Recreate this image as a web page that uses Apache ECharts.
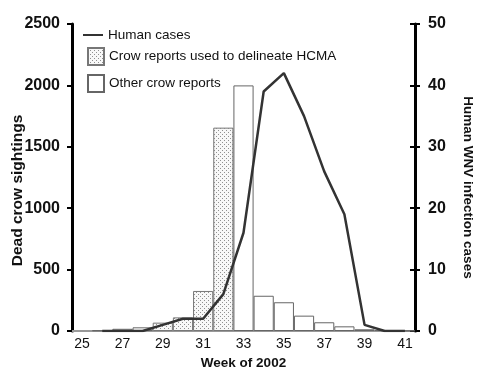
<!DOCTYPE html>
<html><head><meta charset="utf-8">
<script src="https://cdn.jsdelivr.net/npm/echarts@6/dist/echarts.min.js"></script>
<style>html,body{margin:0;padding:0;background:#fff}#c{width:480px;height:375px}</style>
</head><body><div id="c"></div>
<script>
var weeks = ['25','26','27','28','29','30','31','32','33','34','35','36','37','38','39','40','41'];
var hcmaCrows = [null,null,null,null,68,111,326,1656,null,null,null,null,null,null,null,null,null];
var otherCrows = [null,5,18,30,null,null,null,null,2000,287,234,125,71,38,14,8,3];
var humanCases = [null,0,0,0,1,2,2,6,16,39,42,35,26,19,1,0,0];
var leftTicks = [0,500,1000,1500,2000,2500];
var rightTicks = [0,10,20,30,40,50];

var cv = document.createElement('canvas');
cv.width = 4; cv.height = 4;
var cx = cv.getContext('2d');
cx.fillStyle = '#f8f8f8'; cx.fillRect(0,0,4,4);
cx.fillStyle = '#909090'; cx.fillRect(0,0,1,1); cx.fillRect(2,2,1,1);

var numFont = '"Liberation Sans Narrow","Arial Narrow","Liberation Sans",Arial,sans-serif';
var font = '"Liberation Sans",Arial,sans-serif';
var legendText = {fontFamily:font, fontSize:13.5, color:'#111'};

var chart = echarts.init(document.getElementById('c'), null, {renderer:'canvas'});
chart.setOption({
  animation: false,
  backgroundColor: '#fff',
  grid: {left:72, right:65, top:24, bottom:44, containLabel:false, outerBoundsMode:'none'},
  legend: [{
    orient:'vertical', left:78, top:22, itemWidth:20, itemHeight:16, itemGap:6,
    textStyle:legendText,
    data:[{name:'Human cases', icon:'path://M0,0M20,16M0,7L20,7L20,9L0,9Z'}]
  },{
    orient:'vertical', left:82, top:42, itemWidth:16, itemHeight:17, itemGap:8,
    textStyle:legendText,
    data:[{name:'Crow reports used to delineate HCMA', icon:'rect'},{name:'Other crow reports', icon:'rect'}]
  }],
  xAxis: {
    type:'category', data:weeks, boundaryGap:true,
    name:'Week of 2002', nameLocation:'middle', nameGap:24,
    nameTextStyle:{fontFamily:font, fontSize:13.5, fontWeight:'bold', color:'#111'},
    axisLine:{lineStyle:{color:'#999', width:2}},
    axisTick:{interval:0, length:6, lineStyle:{color:'#888', width:1}},
    axisLabel:{interval:1, margin:6, fontFamily:font, fontSize:14, color:'#111'}
  },
  yAxis: [{
    type:'value', min:0, max:2500, interval:500, position:'left',
    name:'Dead crow sightings', nameLocation:'middle', nameGap:46, nameRotate:90, nameMoveOverlap:false,
    nameTextStyle:{fontFamily:font, fontSize:15.5, fontWeight:'bold', color:'#111', padding:[0,26,0,0]},
    axisLine:{show:true, lineStyle:{color:'#000', width:3}},
    axisTick:{show:true, length:5, lineStyle:{color:'#000', width:2}},
    axisLabel:{margin:12, fontFamily:numFont, fontSize:16, fontWeight:'bold', color:'#111',
      formatter:function(v){return leftTicks.indexOf(v)>=0?String(v):'';}},
    splitLine:{show:false}
  },{
    type:'value', min:0, max:50, interval:10, position:'right',
    name:'Human WNV infection cases', nameLocation:'middle', nameGap:46, nameRotate:-90,
    nameTextStyle:{fontFamily:font, fontSize:13.5, fontWeight:'bold', color:'#111', padding:[0,0,0,20]},
    axisLine:{show:true, lineStyle:{color:'#000', width:3}},
    axisTick:{show:true, length:5, lineStyle:{color:'#000', width:2}},
    axisLabel:{margin:13, fontFamily:numFont, fontSize:16, fontWeight:'bold', color:'#111',
      formatter:function(v){return rightTicks.indexOf(v)>=0?String(v):'';}},
    splitLine:{show:false}
  },{
    type:'value', min:0, max:50, interval:10, position:'right',
    axisLine:{show:false},
    axisTick:{show:true, inside:true, length:5, lineStyle:{color:'#000', width:2}},
    axisLabel:{show:false}, splitLine:{show:false}
  }],
  series: [{
    name:'Crow reports used to delineate HCMA', type:'bar', data:hcmaCrows,
    barCategoryGap:'0%', barGap:'-100%',
    itemStyle:{color:{image:cv, repeat:'repeat'}, borderColor:'#777', borderWidth:1}
  },{
    name:'Other crow reports', type:'bar', data:otherCrows,
    barCategoryGap:'0%', barGap:'-100%',
    itemStyle:{color:'#fff', borderColor:'#666', borderWidth:1}
  },{
    name:'Human cases', type:'line', yAxisIndex:1, data:humanCases,
    symbol:'none', showSymbol:false, z:5,
    lineStyle:{color:'#333', width:2.5}, itemStyle:{color:'#333'}
  }]
});
</script></body></html>
